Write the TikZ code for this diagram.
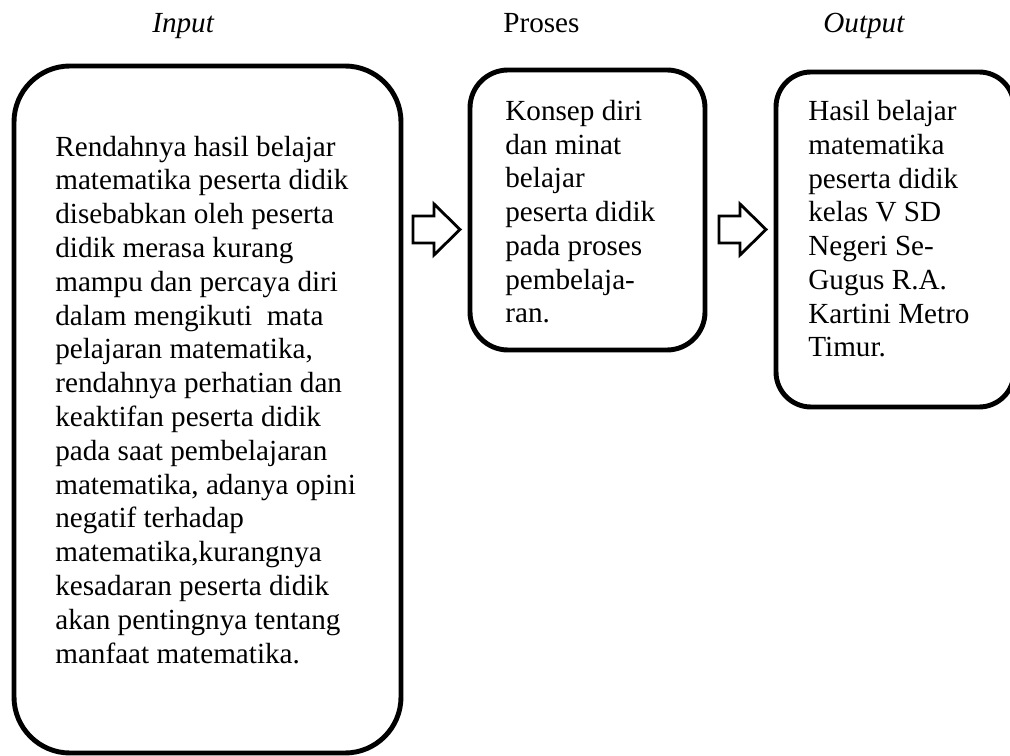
\documentclass[tikz,border=0pt]{standalone}
\usepackage{fontspec}
\setmainfont{Liberation Serif}
\usepackage{tikz}

\begin{document}
\begin{tikzpicture}[x=0.02cm, y=-0.02cm,
    box/.style={draw, line width=2.8pt, rounded corners=#1, inner sep=0pt},
    txt/.style={anchor=base west, align=left, inner sep=0pt, font=\fontsize{16.6}{19.23}\selectfont},
    head/.style={anchor=base west, inner sep=0pt, font=\fontsize{16.6}{19.23}\selectfont}]
    \useasboundingbox (0,0) rectangle (1010,756);
    % Headings
    \node[head] (hin) at (152,33) {\textit{Input}};
    \node[head] (hpro) at (503,33) {Proses};
    \node[head] (hout) at (823,33) {\textit{Output}};
    % Boxes
    \node[box=1.12cm, minimum width=387*0.02cm, minimum height=687*0.02cm] (inbox) at (207.5,409.5) {};
    \node[box=0.76cm, minimum width=235*0.02cm, minimum height=280*0.02cm] (probox) at (587.5,210) {};
    \node[box=0.7cm, minimum width=238*0.02cm, minimum height=335*0.02cm] (outbox) at (895,239.5) {};
    % Texts (anchored at the last line)
    \node[txt] (intxt) at (55,663) {Rendahnya hasil belajar\\ matematika peserta didik\\
        disebabkan oleh peserta\\ didik merasa kurang\\ mampu dan percaya diri\\
        dalam mengikuti\ \ mata\\ pelajaran matematika,\\ rendahnya perhatian dan\\
        keaktifan peserta didik\\ pada saat pembelajaran\\ matematika, adanya opini\\
        negatif terhadap\\ matematika,kurangnya\\ kesadaran peserta didik\\
        akan pentingnya tentang\\ manfaat matematika.};
    \node[txt] (protxt) at (505,323) {Konsep diri\\ dan minat\\ belajar\\ peserta didik\\
        pada proses\\ pembelaja-\\ ran.};
    \node[txt] (outtxt) at (808,357) {Hasil belajar\\ matematika\\ peserta didik\\
        kelas V SD\\ Negeri Se-\\ Gugus R.A.\\ Kartini Metro\\ Timur.};
    % Block arrows
    \foreach \x in {413,719} {
        \draw[line width=1.6pt, line join=miter]
            (\x,216) -- (\x+21,216) -- (\x+21,204) -- (\x+47,229.5) -- (\x+21,255)
            -- (\x+21,243) -- (\x,243) -- cycle;
    }
\end{tikzpicture}
\end{document}
